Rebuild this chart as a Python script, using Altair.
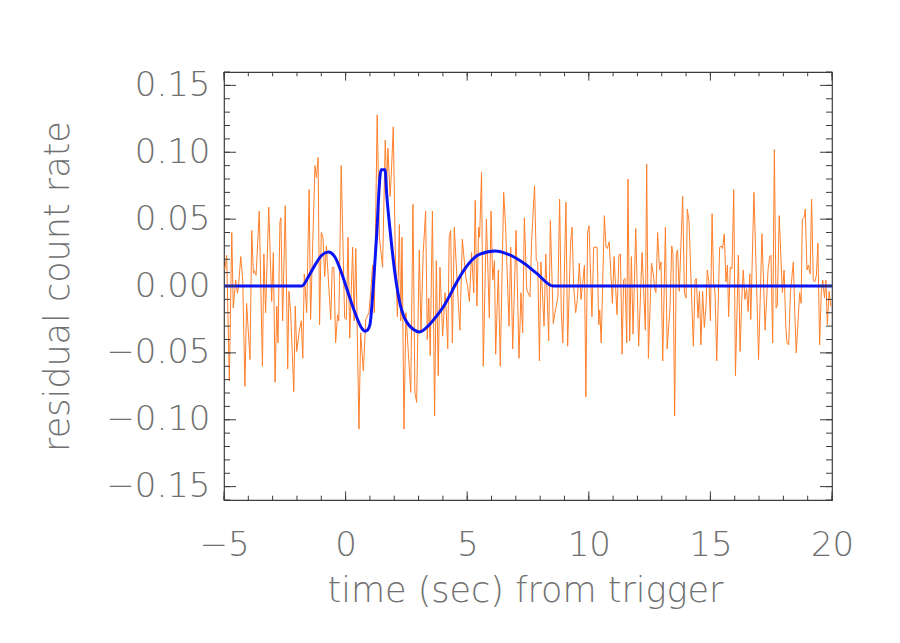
import altair as alt
import pandas as pd

# residual (orange) series
t_resid = [-4.97, -4.89, -4.78, -4.68, -4.62, -4.52, -4.45, -4.41, -4.31, -4.23, -4.14, -4.07, -3.93, -3.86,
           -3.79, -3.75, -3.68, -3.55, -3.42, -3.36, -3.29, -3.16, -3.04, -2.97, -2.90, -2.83, -2.78, -2.70,
           -2.66, -2.59, -2.48, -2.38, -2.33, -2.26, -2.13, -2.07, -2.01, -1.90, -1.82,
           -1.76, -1.70, -1.60, -1.50, -1.44, -1.26, -1.20, -1.13, -1.07, -1.00, -0.93, -0.86, -0.79, -0.61,
           -0.55, -0.48, -0.41, -0.33, -0.28, -0.18, -0.04, 0.03, 0.10, 0.17, 0.29, 0.35, 0.42, 0.55, 0.62,
           0.73, 0.83, 0.96, 1.03,
           1.11, 1.18, 1.30, 1.39, 1.52, 1.63, 1.69, 1.74, 1.83, 1.88, 1.96, 2.04, 2.13, 2.21, 2.27, 2.32,
           2.40, 2.48, 2.58, 2.68, 2.77, 2.85, 2.92, 3.03, 3.10, 3.19, 3.29, 3.36, 3.42, 3.48, 3.57, 3.66,
           3.73, 3.81, 3.88, 3.99, 4.09, 4.14, 4.20, 4.26,
           4.32, 4.39, 4.47, 4.61, 4.70, 4.80, 4.94, 5.02, 5.09, 5.18, 5.27, 5.33, 5.40, 5.47, 5.51, 5.59,
           5.66, 5.79, 5.91, 5.98, 6.05, 6.12, 6.17, 6.28, 6.36, 6.50, 6.58, 6.72, 6.79, 6.87, 7.01, 7.13,
           7.21, 7.28, 7.35,
           7.45, 7.58, 7.65, 7.77, 7.84, 7.90, 7.97, 8.03, 8.16, 8.23, 8.35, 8.42, 8.54, 8.61, 8.73, 8.80,
           8.87, 8.93, 9.06, 9.13, 9.25, 9.31, 9.38, 9.46, 9.53, 9.61, 9.68, 9.82, 9.88, 9.95, 10.01, 10.13,
           10.20, 10.34, 10.41,
           10.45, 10.51, 10.64, 10.71, 10.76, 10.84, 10.97, 11.04, 11.16, 11.24, 11.30, 11.37, 11.43, 11.49,
           11.56, 11.61, 11.68, 11.75, 11.82, 11.93, 12.05, 12.19, 12.325, 12.38, 12.45, 12.58, 12.65, 12.72,
           12.76, 12.83, 12.91, 12.97, 13.04, 13.15, 13.22, 13.34, 13.41, 13.46, 13.53,
           13.60, 13.65, 13.72, 13.86, 13.93, 14.00, 14.05, 14.12, 14.24, 14.30, 14.37, 14.42, 14.49, 14.55,
           14.61, 14.68, 14.75, 14.82, 14.87, 14.94, 15.00, 15.07, 15.13, 15.19, 15.26, 15.38, 15.45, 15.50,
           15.57, 15.64, 15.70, 15.75, 15.82, 15.89, 15.96, 16.03, 16.15, 16.22, 16.29, 16.35, 16.42, 16.49,
           16.55, 16.62,
           16.66, 16.79, 16.92, 16.98, 17.12, 17.25, 17.37, 17.44, 17.49, 17.56, 17.63, 17.70, 17.75, 17.83,
           17.96, 18.03, 18.10, 18.15, 18.22, 18.29, 18.41, 18.47, 18.53, 18.67, 18.73, 18.78, 18.85, 18.90,
           18.97, 19.03, 19.10, 19.16, 19.23, 19.29, 19.36, 19.42, 19.49, 19.56, 19.62, 19.69, 19.75, 19.81,
           19.88, 19.95, 19.99]
v_resid = [0.012, 0.023, -0.071, 0.040, -0.0165, 0.0044, -0.0054, -0.0017, 0.022, 0.0044, -0.075, -0.013, -0.055, 0.0415,
           0.0094, 0.0114, 0.0081, 0.056, -0.060, 0.024, -0.020, 0.059, -0.0116, 0.025, -0.072, -0.015, -0.0425, 0.048,
           0.051, -0.026, 0.060, -0.062, -0.004, -0.019, -0.079, -0.015, -0.049, -0.033, -0.026,
           -0.054, 0.009, -0.020, 0.072, -0.025, 0.090, 0.081, 0.096, -0.029, 0.040, 0.0365, 0.007, 0.030, -0.025,
           0.014, 0.014, -0.0425, -0.0215, -0.026, 0.090, -0.024, -0.025, 0.0365, -0.039, 0.029, -0.026, 0.028, -0.107, -0.035,
           -0.0635, -0.025, -0.020, -0.005,
           0.0156, -0.020, 0.128, 0.0365, 0.014, 0.109, 0.074, 0.103, 0.067, 0.0835, 0.119, 0.028, -0.023, 0.046, -0.026, 0.0365,
           -0.107, -0.020, -0.050, -0.0795, 0.061, -0.0795, -0.087, 0.027, -0.035, 0.024, 0.056, -0.040, -0.009, -0.052, 0.056, -0.097,
           0.019, -0.067, 0.014, -0.0375, -0.005, -0.020, -0.047, 0.0365,
           0.0415, -0.0425, 0.044, -0.005, -0.033, 0.035, 0.007, -0.0005, -0.0116, 0.025, -0.005, 0.064, -0.015, 0.044, 0.0365, 0.085,
           -0.060, 0.050, -0.024, 0.056, 0.0044, 0.019, -0.051, 0.012, -0.060, 0.070, 0.044, -0.030, 0.029, -0.047, 0.0415, -0.054,
           -0.005, -0.035, 0.051,
           -0.003, -0.008, 0.034, 0.075, 0.019, 0.018, -0.056, 0.018, -0.030, 0.024, -0.041, 0.049, -0.028, -0.020, -0.008, 0.065,
           -0.020, -0.0425, 0.0625, -0.045, 0.032, 0.044, -0.0005, -0.020, -0.010, 0.017, -0.010, 0.0156, -0.083, 0.040, 0.045, -0.023,
           0.029, 0.029, -0.029,
           -0.018, -0.0425, 0.0526, 0.029, 0.028, 0.033, -0.013, 0.022, -0.0215, 0.023, 0.024, -0.051, 0.0044, 0.0057,
           -0.0425, 0.080, -0.041, 0.022, -0.036, 0.043, -0.045, 0.025, -0.033, 0.091, -0.054, 0.017, 0.009, -0.003,
           -0.005, 0.040, 0.012, 0.018, -0.056, 0.044, -0.047, -0.0165, 0.030, 0.024, -0.097,
           0.024, 0.027, -0.004, 0.067, -0.005, -0.009, 0.0575, 0.049, -0.015, -0.045, 0.0044, 0.0057, -0.024, -0.004,
           -0.044, -0.004, -0.031, -0.015, 0.012, 0.003, -0.026, 0.054, 0.003, -0.005, -0.056, 0.029, 0.030, 0.028,
           0.039, 0.003, 0.0156, -0.023, 0.014, 0.013, 0.072, -0.067, 0.023, -0.049, -0.010, 0.012, -0.010, -0.002,
           -0.019, 0.009,
           -0.025, 0.070, -0.013, -0.055, 0.039, -0.033, 0.012, 0.022, 0.023, -0.0425, 0.102, -0.0165, -0.015, 0.0526,
           -0.005, 0.012, -0.030, -0.0425, -0.044, -0.005, 0.018, -0.020, -0.050, -0.005, -0.013, 0.050, 0.051, 0.0575,
           0.012, 0.0156, 0.009, 0.065, 0.0044, 0.003, 0.008, 0.032, -0.044, -0.004, 0.0044, -0.009, 0.0044, -0.029,
           -0.004, -0.015, -0.015]

# model (blue) curve
t_model = [-5.0, -1.80, -1.53, -1.26, -0.98, -0.71, -0.44, -0.16, 0.11, 0.39, 0.66, 0.80, 0.90, 1.00,
           1.14, 1.28, 1.41, 1.455, 1.62, 1.69, 1.83, 2.03, 2.14, 2.24, 2.38, 2.52, 2.79, 3.03, 3.33, 3.74, 4.09,
           4.29, 4.50, 4.91, 5.46, 6.14, 6.69, 7.35, 7.86, 8.54, 20.0]
v_model = [0.0, 0.0, 0.0069, 0.0156, 0.023, 0.0254, 0.0217, 0.0094, -0.0054, -0.0202, -0.0314, -0.0338, -0.033, -0.029,
           0.0, 0.039, 0.081, 0.087, 0.087, 0.0686, 0.0415, 0.0094, -0.004, -0.0135, -0.022, -0.0272, -0.0325, -0.0343, -0.031,
           -0.0225, -0.0135, -0.0068, 0.0005, 0.013, 0.0232, 0.0262, 0.0237, 0.0168, 0.0094, 0.0, 0.0]

x_major = [-5, 0, 5, 10, 15, 20]
x_minor = list(range(-5, 21))
y_major = [-0.15, -0.10, -0.05, 0.0, 0.05, 0.10, 0.15]
y_minor = [round(-0.16 + 0.01 * i, 2) for i in range(33)]

W, H = 608, 428
FONT = "DejaVu Sans"
TXT = "#707070"
FRAME = "#3c3c3c"
LBL = 34
TTL = 35

xs = alt.Scale(domain=[-5, 20], nice=False, zero=False)
ys = alt.Scale(domain=[-0.16, 0.16], nice=False, zero=False)

x_axis = alt.Axis(values=x_major, format="d", ticks=False, tickSize=0, domain=False, grid=False,
                  labelFont=FONT, labelFontSize=LBL, labelFontWeight=200, labelColor=TXT,
                  labelPadding=55, labelBaseline="alphabetic", labelFlush=False, labelOverlap=False,
                  title="time (sec) from trigger", titleFont=FONT, titleFontSize=TTL, titleFontWeight=200,
                  titleColor=TXT, titleX=W / 2 - 3, titleY=101, titleBaseline="alphabetic", titleAlign="center")
y_axis = alt.Axis(values=y_major, format=".2f", ticks=False, tickSize=0, domain=False, grid=False,
                  labelFont=FONT, labelFontSize=LBL, labelFontWeight=200, labelColor=TXT,
                  labelPadding=14, labelFlush=False, labelOverlap=False,
                  title="residual count rate", titleFont=FONT, titleFontSize=TTL, titleFontWeight=200,
                  titleColor=TXT, titleX=-156, titleY=H / 2, titleAngle=270, titleBaseline="alphabetic",
                  titleAlign="center")

resid = alt.Chart(pd.DataFrame({"t": t_resid, "v": v_resid})).mark_line(
    color="#ff7f2a", strokeWidth=1).encode(
    x=alt.X("t:Q", scale=xs, axis=x_axis),
    y=alt.Y("v:Q", scale=ys, axis=y_axis))

model = alt.Chart(pd.DataFrame({"t": t_model, "v": v_model})).mark_line(
    color="#0a14f5", strokeWidth=3, interpolate="monotone").encode(
    x=alt.X("t:Q", scale=xs, axis=x_axis),
    y=alt.Y("v:Q", scale=ys, axis=y_axis))


def yticks(vals, length):
    df = pd.DataFrame({"v": vals})
    left = alt.Chart(df).mark_rule(color=FRAME, strokeWidth=1).encode(
        y=alt.Y("v:Q", scale=ys, axis=y_axis), x=alt.value(0), x2=alt.value(length))
    right = alt.Chart(df).mark_rule(color=FRAME, strokeWidth=1).encode(
        y=alt.Y("v:Q", scale=ys, axis=y_axis), x=alt.value(W - length), x2=alt.value(W))
    return [left, right]


def xticks(vals, length):
    df = pd.DataFrame({"t": vals})
    bottom = alt.Chart(df).mark_rule(color=FRAME, strokeWidth=1).encode(
        x=alt.X("t:Q", scale=xs, axis=x_axis), y=alt.value(H), y2=alt.value(H - length))
    top = alt.Chart(df).mark_rule(color=FRAME, strokeWidth=1).encode(
        x=alt.X("t:Q", scale=xs, axis=x_axis), y=alt.value(0), y2=alt.value(length))
    return [bottom, top]


layers = [resid, model] + yticks(y_minor, 6) + yticks(y_major, 12) + xticks(x_minor, 4.3) + xticks(x_major, 8.6)

chart = alt.layer(*layers).properties(
    width=W, height=H,
    autosize="none",
    padding={"left": 216, "top": 64, "right": 50, "bottom": 120},
    background="white",
).configure_view(stroke=FRAME, strokeWidth=1.2)

chart.save("out.html", embed_options={"renderer": "svg", "actions": False})
